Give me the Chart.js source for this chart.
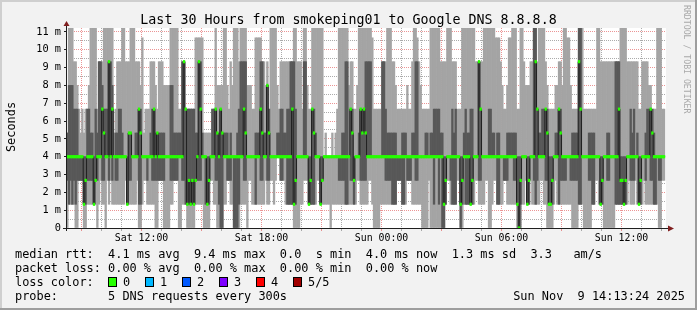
<!DOCTYPE html>
<html>
<head>
<meta charset="utf-8">
<script src="https://cdn.jsdelivr.net/npm/chart.js@4"></script>
<style>
html,body{margin:0;padding:0;background:#f2f2f2;}
canvas{display:block;}
</style>
</head>
<body>
<canvas id="c" width="697" height="310"></canvas>
<script>
// ---- time frame (hours since Sat 00:00) ----
const windowStartHour = 8 + 13/60 + 24/3600;   // Sat 08:13:24
const windowHours = 30;
const firstStepEndHour = 8.25;                  // first 300 s step ends 08:15
const stepHours = 5/60;                         // 300 s per step

// ---- ping values per 5-min step (ms): min, 2nd, median, 4th, max ----
const minRtt = [
1.33,0,1.33,1.33,1.33,1.33,0,0,2.67,2.67,
2.67,0,0,1.33,1.33,1.33,1.33,1.33,1.33,0,
1.33,2.67,1.33,1.33,0,2.67,1.33,2.67,1.33,1.33,
1.33,1.33,1.33,1.33,1.33,1.33,2.67,1.33,1.33,1.33,
1.33,1.33,1.33,2.67,0,0,1.33,2.67,2.67,1.33,
1.33,1.33,1.33,1.33,0,0,2.67,2.67,2.67,0,
0,0,0,1.33,1.33,2.67,2.67,2.67,0,0,
1.33,1.33,1.33,0,0,0,0,0,1.33,1.33,
1.33,1.33,1.33,0,0,0,0,2.67,2.67,1.33,
1.33,0,0,0,0,1.33,1.33,2.67,2.67,1.33,
1.33,0,0,0,0,1.33,1.33,1.33,1.33,0,
2.67,2.67,1.33,1.33,1.33,1.33,1.33,1.33,1.33,1.33,
2.67,1.33,1.33,2.67,2.67,1.33,2.67,4,4,2.67,
2.67,2.67,1.33,1.33,1.33,1.33,1.33,0,0,0,
0,1.33,1.33,2.67,2.67,2.67,1.33,1.33,1.33,1.33,
1.33,2.67,2.67,1.33,1.33,1.33,1.33,1.33,1.33,0,
1.33,1.33,1.33,1.33,1.33,1.33,1.33,1.33,1.33,1.33,
1.33,1.33,1.33,1.33,1.33,2.67,2.67,1.33,1.33,1.33,
1.33,1.33,2.67,2.67,1.33,0,0,0,0,1.33,
1.33,1.33,1.33,1.33,1.33,1.33,1.33,1.33,1.33,2.67,
2.67,2.67,1.33,1.33,1.33,2.67,2.67,2.67,1.33,1.33,
1.33,1.33,1.33,1.33,0,0,0,0,2.67,0,
0,0,0,0,0,0,0,0,1.33,2.67,
2.67,1.33,1.33,1.33,1.33,2.67,2.67,0,0,1.33,
1.33,1.33,1.33,1.33,1.33,1.33,2.67,2.67,1.33,1.33,
1.33,1.33,2.67,2.67,0,0,1.33,2.67,2.67,1.33,
1.33,1.33,1.33,2.67,2.67,1.33,1.33,1.33,1.33,1.33,
1.33,0,0,0,1.33,1.33,2.67,1.33,1.33,2.67,
1.33,1.33,1.33,1.33,1.33,2.67,2.67,1.33,1.33,0,
0,0,0,1.33,2.67,1.33,1.33,1.33,1.33,1.33,
1.33,1.33,1.33,1.33,0,0,0,0,1.33,1.33,
1.33,0,0,0,0,0,1.33,1.33,2.67,2.67,
1.33,1.33,1.33,0,0,0,0,0,0,0,
1.33,1.33,1.33,1.33,1.33,1.33,1.33,1.33,2.67,1.33,
1.33,1.33,2.67,1.33,1.33,1.33,1.33,2.67,1.33,1.33,
1.33,1.33,1.33,1.33,1.33,1.33,0,0,2.67,2.67
];
const lowRtt = [
2.67,2.67,1.33,2.67,1.33,2.67,1.33,2.67,2.67,2.67,
2.67,1.33,1.33,2.67,2.67,2.67,2.67,1.33,2.67,2.67,
4,4,2.67,2.67,4,4,2.67,4,2.67,4,
2.67,2.67,4,4,4,4,4,1.33,2.67,2.67,
4,4,4,4,1.33,1.33,4,4,4,2.67,
4,4,2.67,2.67,2.67,2.67,2.67,2.67,2.67,2.67,
4,4,4,2.67,2.67,2.67,2.67,2.67,4,4,
2.67,2.67,1.33,1.33,1.33,1.33,1.33,1.33,2.67,2.67,
2.67,2.67,4,4,1.33,1.33,1.33,4,4,4,
2.67,2.67,1.33,0,0,4,4,2.67,2.67,2.67,
4,0,0,0,1.33,4,4,2.67,2.67,4,
4,4,4,4,1.33,4,4,2.67,2.67,4,
4,2.67,2.67,4,4,4,4,4,4,2.67,
2.67,4,4,1.33,1.33,1.33,1.33,1.33,1.33,4,
4,4,4,4,4,4,1.33,1.33,1.33,1.33,
4,4,4,1.33,2.67,4,4,4,4,4,
4,4,4,4,2.67,2.67,2.67,2.67,1.33,1.33,
4,2.67,2.67,1.33,4,4,4,2.67,2.67,2.67,
2.67,4,4,4,4,4,4,4,4,4,
4,4,2.67,2.67,2.67,2.67,1.33,1.33,1.33,2.67,
2.67,2.67,1.33,1.33,4,2.67,2.67,2.67,4,4,
2.67,2.67,4,4,4,4,4,4,4,4,
4,1.33,4,4,1.33,4,0,0,1.33,4,
4,2.67,1.33,1.33,1.33,4,4,0,1.33,4,
1.33,1.33,1.33,1.33,1.33,4,4,4,2.67,2.67,
4,4,4,4,4,4,4,4,4,1.33,
1.33,4,4,2.67,2.67,2.67,4,4,4,2.67,
2.67,1.33,0,1.33,4,4,4,1.33,1.33,4,
4,2.67,1.33,2.67,4,4,4,4,2.67,2.67,
1.33,1.33,1.33,4,4,4,1.33,2.67,2.67,2.67,
2.67,4,4,2.67,2.67,2.67,2.67,2.67,1.33,1.33,
4,4,4,4,2.67,2.67,1.33,1.33,4,4,
4,1.33,1.33,4,4,2.67,2.67,4,4,4,
1.33,1.33,1.33,1.33,1.33,1.33,1.33,4,4,2.67,
2.67,2.67,4,4,1.33,1.33,4,4,2.67,4,
4,2.67,2.67,1.33,1.33,4,2.67,2.67,4,4
];
const medianRtt = [
4,4,4,4,4,4,4,4,4,4,
4,1.33,2.67,4,4,4,4,1.33,2.67,4,
4,4,6.67,5.33,4,4,9.33,4,6.67,4,
4,4,4,4,4,4,4,1.33,5.33,5.33,
4,4,4,4,6.67,5.33,4,4,4,4,
4,4,4,6.67,4,5.33,4,4,4,4,
4,4,4,4,4,4,4,4,4,4,
4,9.33,6.67,1.33,2.67,1.33,2.67,1.33,2.67,4,
9.33,6.67,4,4,4,1.33,2.67,4,4,4,
6.67,5.33,4,6.67,5.33,4,4,4,4,4,
4,4,4,4,4,4,4,6.67,5.33,4,
4,4,4,4,4,4,4,6.67,5.33,4,
4,8,5.33,4,4,4,4,4,4,4,
4,4,4,4,4,4,6.67,1.33,2.67,4,
4,4,4,4,4,4,1.33,2.67,6.67,5.33,
4,4,4,1.33,2.67,4,4,4,4,4,
4,4,4,4,4,4,4,4,4,4,
4,6.67,5.33,2.67,4,4,4,6.67,5.33,6.67,
5.33,4,4,4,4,4,4,4,4,4,
4,4,4,4,4,4,4,4,4,4,
4,4,4,4,4,4,4,4,4,4,
4,4,4,4,4,4,4,4,4,4,
4,4,4,4,4,4,4,1.33,2.67,4,
4,4,4,4,4,4,4,1.33,2.67,4,
4,4,4,1.33,2.67,4,4,4,9.33,6.67,
4,4,4,4,4,4,4,4,4,4,
4,4,4,4,4,4,4,4,4,4,
4,1.33,0,2.67,4,4,4,1.33,2.67,4,
4,4,9.33,6.67,4,4,4,4,6.67,5.33,
1.33,1.33,2.67,4,4,4,6.67,5.33,4,4,
4,4,4,4,4,4,4,4,9.33,6.67,
4,4,4,4,4,4,4,4,4,4,
4,1.33,2.67,4,4,4,4,4,4,4,
4,4,6.67,2.67,2.67,1.33,2.67,4,4,4,
4,4,4,4,1.33,2.67,4,4,4,4,
4,6.67,5.33,4,4,4,4,4,4,4
];
const highRtt = [
5.33,5.33,8,8,8,6.67,6.67,6.67,4,4,
4,4,4,6.67,6.67,5.33,5.33,4,6.67,5.33,
9.33,9.33,8,6.67,6.67,6.67,9.33,9.33,8,4,
5.33,5.33,6.67,6.67,5.33,4,4,4,5.33,5.33,
4,4,5.33,5.33,6.67,6.67,4,4,4,4,
4,5.33,6.67,6.67,5.33,5.33,5.33,5.33,5.33,5.33,
4,4,4,8,8,5.33,5.33,5.33,5.33,5.33,
9.33,9.33,6.67,6.67,6.67,6.67,6.67,6.67,5.33,5.33,
9.33,9.33,5.33,4,4,4,4,4,6.67,6.67,
6.67,5.33,5.33,6.67,5.33,5.33,5.33,5.33,4,5.33,
4,4,4,5.33,6.67,9.33,9.33,9.33,9.33,4,
4,4,4,4,5.33,5.33,5.33,9.33,9.33,5.33,
5.33,8,6.67,4,4,4,4,5.33,5.33,6.67,
6.67,5.33,5.33,6.67,6.67,9.33,9.33,9.33,6.67,4,
4,4,4,9.33,9.33,4,4,4,6.67,6.67,
5.33,4,4,4,4,4,4,4,4,4,
4,4,4,4,4,4,5.33,5.33,9.33,9.33,
4,6.67,6.67,4,4,4,5.33,6.67,6.67,6.67,
9.33,9.33,9.33,9.33,4,4,4,4,4,4,
9.33,9.33,6.67,5.33,5.33,5.33,5.33,5.33,5.33,4,
4,4,5.33,5.33,5.33,4,4,4,5.33,5.33,
9.33,9.33,4,4,4,4,5.33,5.33,4,5.33,
5.33,6.67,6.67,6.67,6.67,5.33,5.33,4,4,4,
4,4,6.67,5.33,6.67,4,4,4,4,5.33,
6.67,5.33,5.33,6.67,6.67,4,4,4,9.33,6.67,
4,4,4,4,6.67,6.67,5.33,5.33,4,5.33,
5.33,4,4,4,4,5.33,5.33,5.33,5.33,5.33,
5.33,4,4,4,4,4,4,4,4,4,
4,12,12,6.67,5.33,5.33,6.67,6.67,6.67,6.67,
4,4,4,4,5.33,5.33,6.67,6.67,4,4,
4,4,4,4,5.33,5.33,5.33,5.33,12,12,
4,4,4,4,5.33,5.33,5.33,5.33,4,4,
4,4,4,4,4,5.33,5.33,4,4,4,
9.33,9.33,9.33,4,4,4,4,4,4,6.67,
5.33,6.67,4,5.33,4,4,4,4,5.33,6.67,
6.67,6.67,6.67,5.33,4,4,4,4,4,4
];
const maxRtt = [
6.67,5.33,12,12,12,9.33,9.33,8,6.67,5.33,
6.67,5.33,6.67,6.67,8,12,12,12,12,6.67,
9.33,9.33,9.33,12,12,12,12,12,12,5.33,
6.67,9.33,9.33,9.33,12,12,9.33,9.33,9.33,12,
12,12,9.33,9.33,9.33,8,10.67,5.33,6.67,6.67,
6.67,9.33,9.33,9.33,8,6.67,9.33,9.33,9.33,8,
8,8,8,12,12,12,12,12,6.67,6.67,
9.33,9.33,6.67,6.67,6.67,6.67,6.67,6.67,10.67,10.67,
10.67,10.67,10.67,5.33,5.33,5.33,5.33,5.33,6.67,6.67,
12,8,8,8,8,12,12,8,6.67,9.33,
8,12,12,12,9.33,12,12,12,12,8,
8,8,6.67,6.67,10.67,10.67,10.67,10.67,9.33,9.33,
8,9.33,6.67,12,12,12,12,8,6.67,9.33,
9.33,9.33,9.33,9.33,9.33,9.33,9.33,12,12,9.33,
9.33,9.33,6.67,12,12,8,6.67,6.67,12,12,
12,12,12,12,12,4,5.33,4,4,4,
5.33,4,5.33,6.67,12,12,12,12,12,12,
8,9.33,9.33,6.67,6.67,8,12,12,12,12,
12,12,12,12,10.67,6.67,6.67,6.67,6.67,6.67,
9.33,9.33,9.33,12,12,12,9.33,9.33,8,6.67,
6.67,6.67,6.67,6.67,6.67,8,6.67,6.67,9.33,12,
12,10.67,9.33,8,6.67,6.67,6.67,6.67,6.67,12,
12,12,12,12,12,9.33,9.33,9.33,9.33,12,
12,12,9.33,9.33,9.33,6.67,6.67,6.67,12,12,
12,12,12,12,12,12,9.33,9.33,9.33,9.33,
9.33,12,12,12,12,12,12,12,10.67,10.67,
10.67,9.33,8,6.67,6.67,8,10.67,10.67,12,12,
12,6.67,6.67,12,12,9.33,8,8,8,9.33,
9.33,12,12,9.33,12,12,12,12,9.33,8,
6.67,6.67,6.67,6.67,8,8,9.33,9.33,8,12,
12,10.67,10.67,8,6.67,6.67,6.67,6.67,12,12,
12,6.67,6.67,6.67,6.67,6.67,6.67,6.67,6.67,12,
12,9.33,9.33,9.33,9.33,9.33,9.33,9.33,9.33,9.33,
9.33,9.33,9.33,12,12,12,12,9.33,9.33,9.33,
9.33,9.33,9.33,9.33,6.67,6.67,9.33,9.33,9.33,9.33,
8,8,6.67,6.67,6.67,12,12,12,6.67,6.67
];

// ---- axis ticks ----
const yMax = 11.22;
const yTickValues = [0,0.5,1,1.5,2,2.5,3,3.5,4,4.5,5,5.5,6,6.5,7,7.5,8,8.5,9,9.5,10,10.5,11];
const yTickLabels = ['0','','1 m','','2 m','','3 m','','4 m','','5 m','','6 m','','7 m','','8 m','','9 m','','10 m','','11 m'];
const xTickHours = [9,10,11,12,13,14,15,16,17,18,19,20,21,22,23,24,25,26,27,28,29,30,31,32,33,34,35,36,37,38];
const xTickLabels = {12:'Sat 12:00', 18:'Sat 18:00', 24:'Sun 00:00', 30:'Sun 06:00', 36:'Sun 12:00'};

// ---- texts ----
const titleText = 'Last 30 Hours from smokeping01 to Google DNS 8.8.8.8';
const yTitle = 'Seconds';
const legendRows = [
  'median rtt:  4.1 ms avg  9.4 ms max  0.0  s min  4.0 ms now  1.3 ms sd  3.3   am/s',
  'packet loss: 0.00 % avg  0.00 % max  0.00 % min  0.00 % now',
  'loss color:',
  'probe:       5 DNS requests every 300s'
];
const lossLabels = ['0','1','2','3','4','5/5'];
const lossColors = ['#26ff00','#00b8ff','#0059ff','#7e00ff','#ff0000','#a10000'];
const dateText = 'Sun Nov  9 14:13:24 2025';
const watermark = 'RRDTOOL / TOBI OETIKER';

// ---- styles ----
const MONO = '"DejaVu Sans Mono", "Liberation Mono", monospace';
const LIGHT_SMOKE = '#a4a4a4';
const DARK_SMOKE = '#585858';
const MEDIAN_LINE = '#202020';
const MARK_HALF = 0.07;
const MAJOR_GRID = 'rgba(222,79,79,0.6)';
const MINOR_GRID = 'rgba(143,143,143,0.75)';

const xs = minRtt.map((_, i) => firstStepEndHour - stepHours/2 + i*stepHours);

const frame = {
  id: 'frame',
  beforeDraw(chart) {
    const ctx = chart.ctx, a = chart.chartArea;
    ctx.save();
    ctx.fillStyle = '#f2f2f2';
    ctx.fillRect(0, 0, chart.width, chart.height);
    ctx.fillStyle = '#cfcfcf';
    ctx.fillRect(0, 0, chart.width, 2);
    ctx.fillRect(0, 0, 2, chart.height);
    ctx.fillStyle = '#9e9e9e';
    ctx.fillRect(0, chart.height - 2, chart.width, 2);
    ctx.fillRect(chart.width - 2, 0, 2, chart.height);
    ctx.fillStyle = '#ffffff';
    ctx.fillRect(a.left, a.top, a.right - a.left, a.bottom - a.top);
    ctx.restore();
  },
  afterDraw(chart) {
    const ctx = chart.ctx, a = chart.chartArea;
    ctx.save();
    ctx.strokeStyle = '#1f1f1f';
    ctx.lineWidth = 1;
    ctx.beginPath();
    ctx.moveTo(a.left - 3, a.bottom + 0.5);
    ctx.lineTo(a.right + 3, a.bottom + 0.5);
    ctx.moveTo(a.left + 0.5, a.bottom + 3);
    ctx.lineTo(a.left + 0.5, a.top - 2);
    ctx.stroke();
    ctx.fillStyle = '#801f1f';
    ctx.beginPath();
    ctx.moveTo(a.left - 2.5, a.top - 2);
    ctx.lineTo(a.left + 3.5, a.top - 2);
    ctx.lineTo(a.left + 0.5, a.top - 7);
    ctx.closePath();
    ctx.fill();
    ctx.beginPath();
    ctx.moveTo(a.right + 2, a.bottom - 2.5);
    ctx.lineTo(a.right + 2, a.bottom + 3.5);
    ctx.lineTo(a.right + 8, a.bottom + 0.5);
    ctx.closePath();
    ctx.fill();

    ctx.fillStyle = '#000';
    ctx.font = '13.3px ' + MONO;
    ctx.textAlign = 'center';
    ctx.textBaseline = 'alphabetic';
    ctx.fillText(titleText, 348.5, 24);

    ctx.save();
    ctx.translate(15, 127);
    ctx.rotate(-Math.PI/2);
    ctx.font = '11.9px ' + MONO;
    ctx.textAlign = 'center';
    ctx.fillText(yTitle, 0, 0);
    ctx.restore();

    ctx.save();
    ctx.translate(684, 5);
    ctx.rotate(Math.PI/2);
    ctx.font = '8.2px ' + MONO;
    ctx.fillStyle = '#a9a9a9';
    ctx.textAlign = 'left';
    ctx.fillText(watermark, 0, 0);
    ctx.restore();

    ctx.font = '11.9px ' + MONO;
    ctx.textAlign = 'left';
    ctx.fillStyle = '#000';
    const base = [258, 272, 286, 300];
    legendRows.forEach((t, i) => ctx.fillText(t, 15, base[i]));
    lossLabels.forEach((lab, k) => {
      const bx = 108 + k*37;
      ctx.fillStyle = lossColors[k];
      ctx.fillRect(bx, 277, 8, 9);
      ctx.strokeStyle = '#000';
      ctx.strokeRect(bx + 0.5, 277.5, 8, 9);
      ctx.fillStyle = '#000';
      ctx.fillText(lab, bx + 15, 286);
    });
    ctx.textAlign = 'right';
    ctx.fillText(dateText, 685, 300);
    ctx.restore();
  }
};

const gridColor = (ctx) => {
  const v = ctx.tick ? ctx.tick.value : 0;
  return Number.isInteger(v) ? MAJOR_GRID : MINOR_GRID;
};
const xGridColor = (ctx) => {
  const v = ctx.tick ? ctx.tick.value : 0;
  return (v % 3 === 0) ? MAJOR_GRID : MINOR_GRID;
};

new Chart(document.getElementById('c'), {
  type: 'bar',
  data: {
    datasets: [
      {
        label: 'median marker',
        data: xs.map((x, i) => ({x, y: [medianRtt[i] - MARK_HALF, medianRtt[i] + MARK_HALF]})),
        backgroundColor: lossColors[0],
        grouped: false, barPercentage: 1, categoryPercentage: 1, borderWidth: 0, order: 0
      },
      {
        type: 'line',
        label: 'median',
        data: xs.map((x, i) => ({x, y: medianRtt[i]})),
        stepped: 'middle',
        borderColor: MEDIAN_LINE, borderWidth: 1, pointRadius: 0, fill: false, order: 1
      },
      {
        label: 'inner smoke',
        data: xs.map((x, i) => ({x, y: [lowRtt[i], highRtt[i]]})),
        backgroundColor: DARK_SMOKE,
        grouped: false, barPercentage: 1, categoryPercentage: 1, borderWidth: 0, order: 2
      },
      {
        label: 'outer smoke',
        data: xs.map((x, i) => ({x, y: [minRtt[i], maxRtt[i]]})),
        backgroundColor: LIGHT_SMOKE,
        grouped: false, barPercentage: 1, categoryPercentage: 1, borderWidth: 0, order: 3
      }
    ]
  },
  options: {
    responsive: false,
    devicePixelRatio: 1,
    animation: false,
    events: [],
    layout: { padding: { left: 0, top: 28, right: 31, bottom: 60 } },
    plugins: { legend: { display: false }, tooltip: { enabled: false }, title: { display: false } },
    scales: {
      x: {
        type: 'linear',
        position: 'bottom',
        offset: false,
        min: windowStartHour,
        max: windowStartHour + windowHours,
        afterBuildTicks: (s) => { s.ticks = xTickHours.map(v => ({value: v})); },
        afterFit: (s) => { s.height = 22; },
        grid: { offset: false, color: xGridColor, tickColor: xGridColor, lineWidth: 1, drawTicks: true, tickLength: 3 },
        border: { display: false, dash: [1, 1] },
        ticks: {
          autoSkip: false, maxRotation: 0, minRotation: 0, padding: 1,
          color: '#000', font: { family: MONO, size: 9.9 },
          callback: (v) => xTickLabels[v] || ''
        }
      },
      y: {
        type: 'linear',
        min: 0,
        max: yMax,
        afterBuildTicks: (s) => { s.ticks = yTickValues.map(v => ({value: v})); },
        afterFit: (s) => { s.width = 66; },
        grid: { color: gridColor, tickColor: (c) => (c.tick && Number.isInteger(c.tick.value)) ? '#1f1f1f' : 'rgba(0,0,0,0)', lineWidth: 1, drawTicks: true, tickLength: 2 },
        border: { display: false, dash: [1, 1] },
        ticks: {
          autoSkip: false, padding: 3, color: '#000', font: { family: MONO, size: 10.3 },
          callback: (v) => { const k = yTickValues.indexOf(v); return k >= 0 ? yTickLabels[k] : ''; }
        }
      }
    }
  },
  plugins: [frame]
});
</script>
</body>
</html>
